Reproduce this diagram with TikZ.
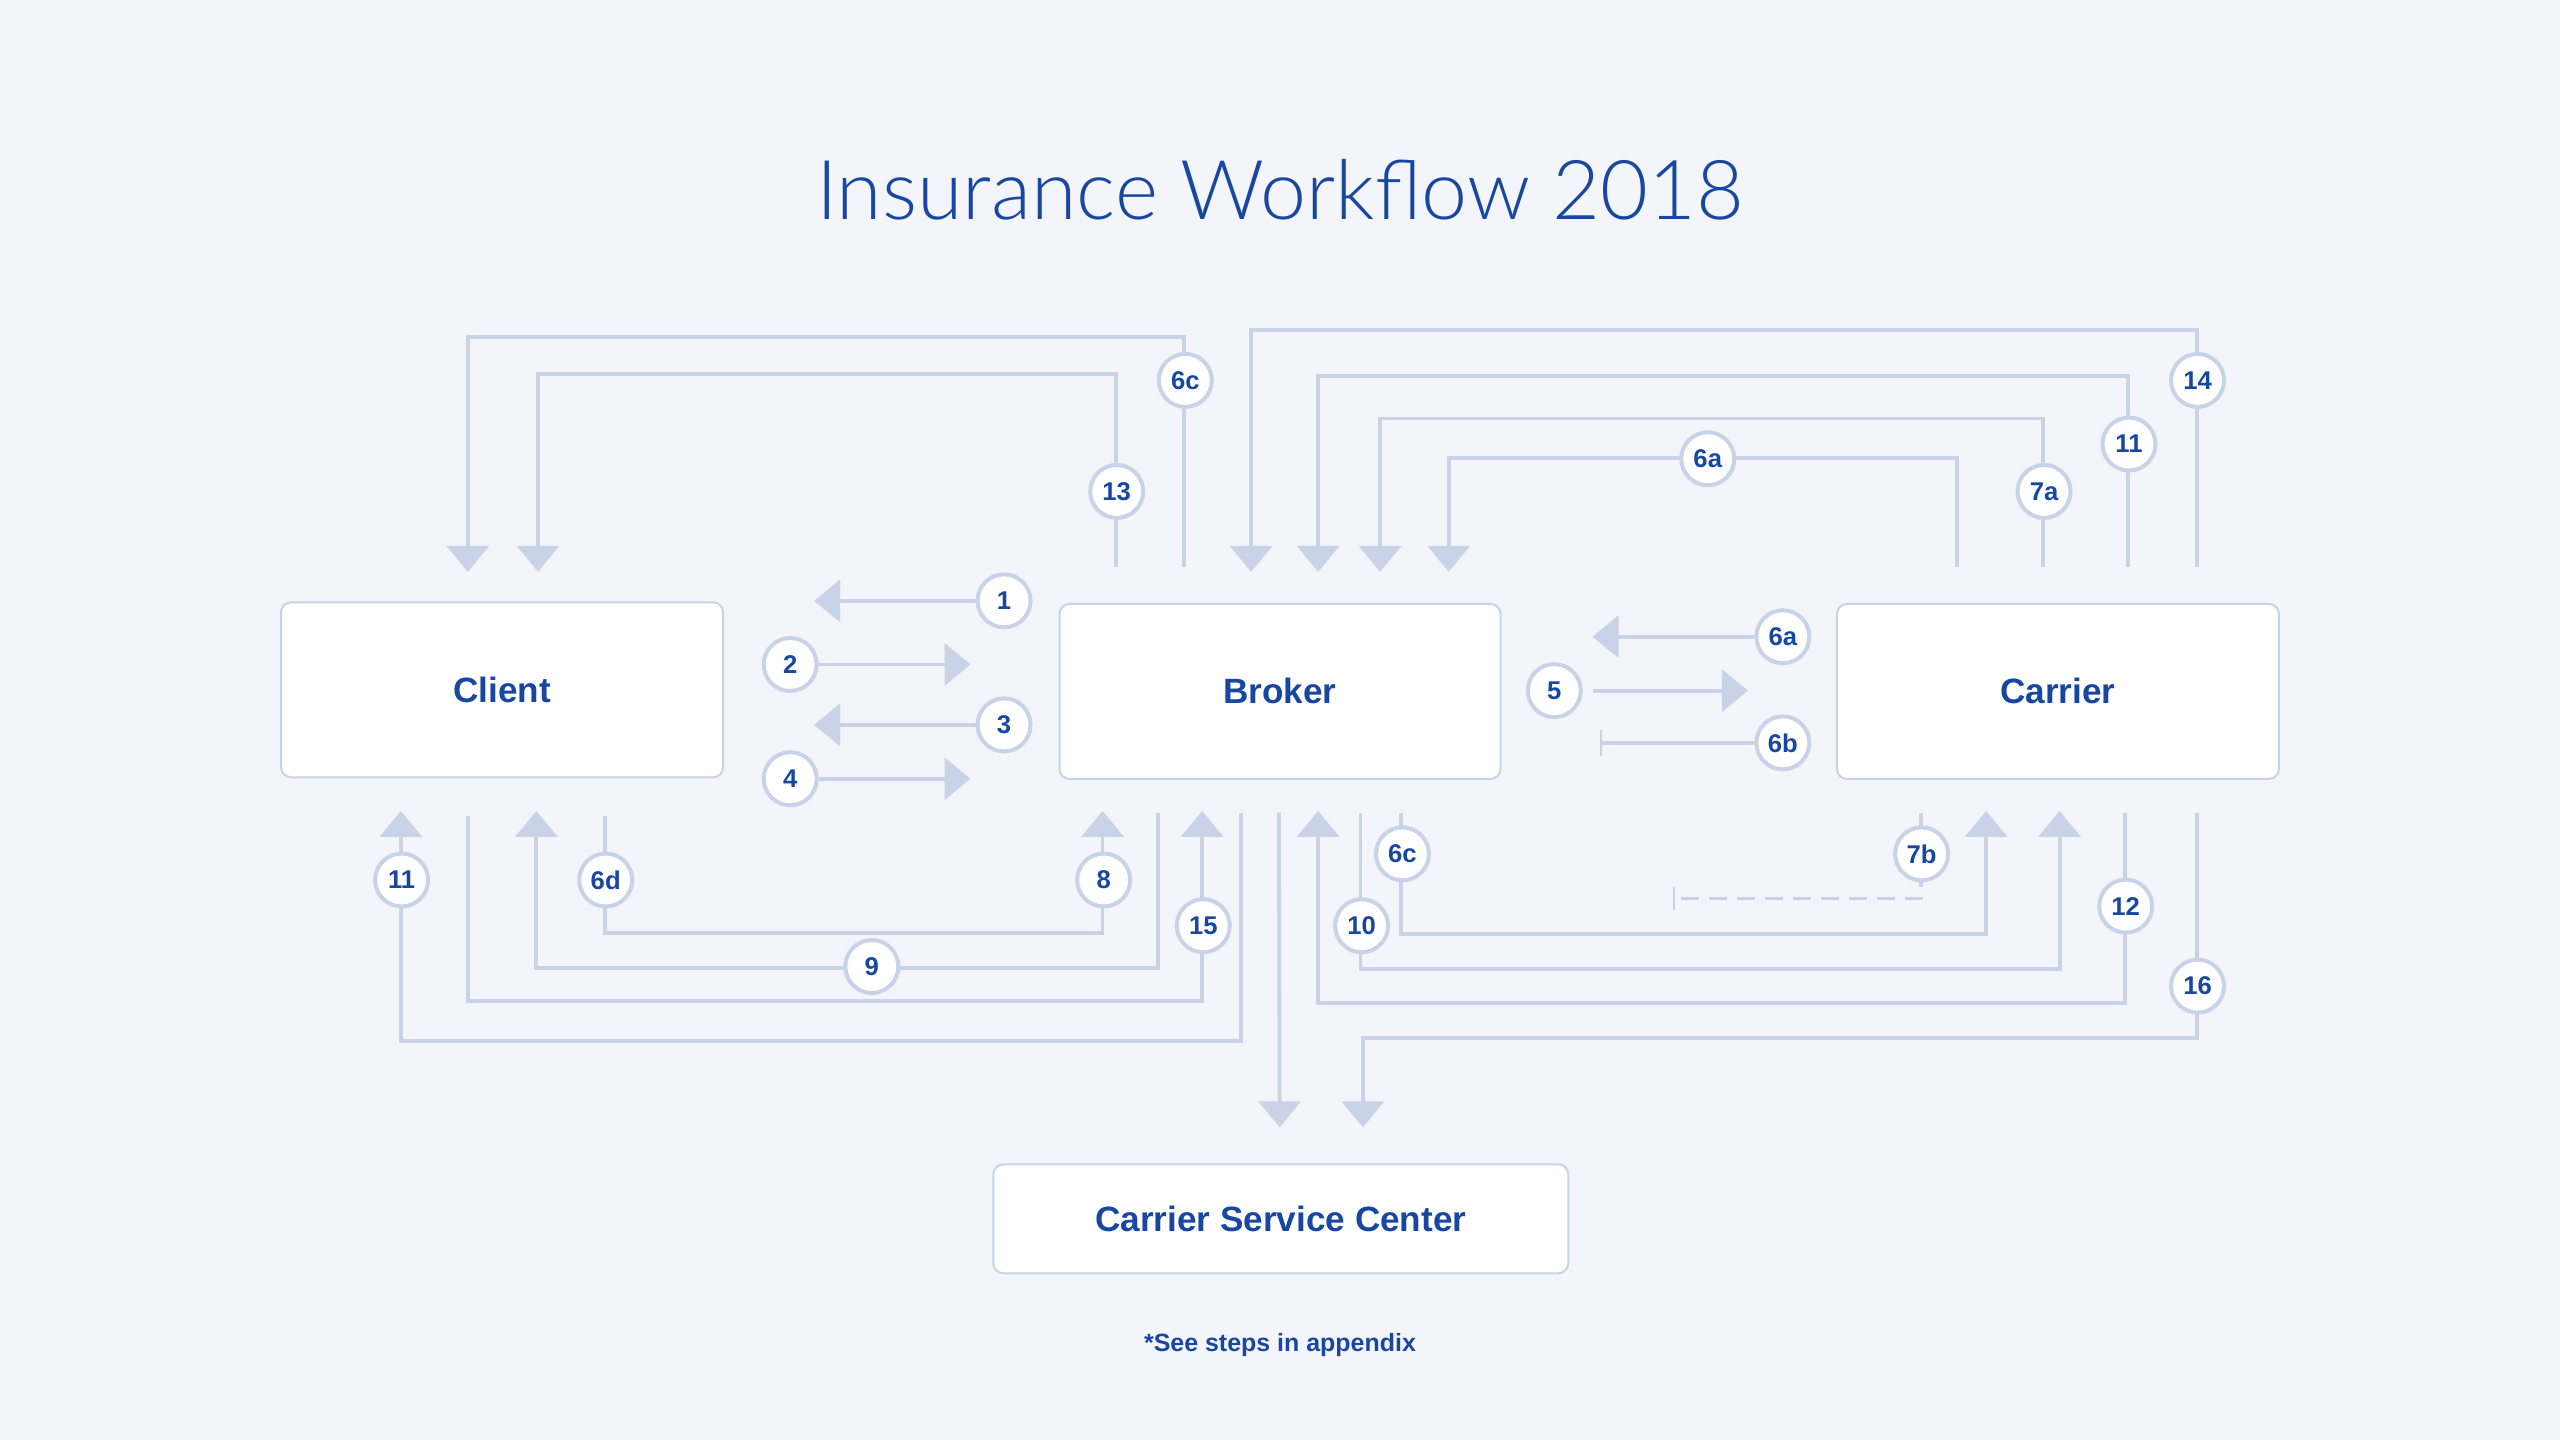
\documentclass[tikz,border=0pt]{standalone}
\usepackage{fontspec}
\setmainfont{Liberation Sans}
\newfontfamily\titlefont{Lato Light}
\usetikzlibrary{arrows.meta,backgrounds,calc}
\definecolor{ink}{RGB}{23,71,160}
\definecolor{wire}{RGB}{200,211,231}
\definecolor{paper}{RGB}{243,245,250}
\tikzset{
  box/.style={draw=wire, line width=0.2mm, rounded corners=1mm, fill=white, text=ink,
    font=\bfseries\fontsize{10}{12}\selectfont},
  num/.style={circle, draw=wire, line width=0.4mm, fill=white, minimum size=5.3mm, inner sep=0pt,
    text=ink, font=\bfseries\fontsize{7.3}{8}\selectfont},
  wireline/.style={draw=wire, line width=0.38mm},
  flow/.style={wireline, -{Triangle[length=2.6mm, width=4.2mm]}},
  stopline/.style={wireline, -{Bar[width=2.6mm, line width=0.25mm]}},
  dashline/.style={wireline, line width=0.35mm, dash pattern=on 1.8mm off 1mm}
}
\begin{document}
\begin{tikzpicture}[x=0.16327mm, y=-0.16327mm]
  \useasboundingbox (0,0) rectangle (1568,882);
  \begin{scope}[on background layer]
    \fill[paper] (0,0) rectangle (1568,882);
  \end{scope}
  \node[text=ink, font=\titlefont\fontsize{23.5}{28}\selectfont] (title) at (784,116) {Insurance Workflow 2018};
  % Parteien
  \node[box, minimum width=44.2mm, minimum height=17.5mm] (client) at (307.5,422.5) {Client};
  \node[box, minimum width=44.1mm, minimum height=17.5mm] (broker) at (784,423.5) {Broker};
  \node[box, minimum width=44.2mm, minimum height=17.5mm] (carrier) at (1260.5,423.5) {Carrier};
  \node[box, minimum width=57.5mm, minimum height=10.9mm] (csc) at (784.5,746.5) {Carrier Service Center};
  \node[text=ink, font=\bfseries\fontsize{7.1}{8}\selectfont] (note) at (784,824) {*See steps in appendix};
  % Anschluesse oben
  \coordinate (cT1) at ($(client.north west)+(115,-18)$);
  \coordinate (cT2) at ($(client.north west)+(158,-18)$);
  \coordinate (bT1) at ($(broker.north west)+(77,-22)$);
  \coordinate (bT2) at ($(broker.north west)+(35,-22)$);
  \coordinate (bT3) at ($(broker.north west)+(118,-19)$);
  \coordinate (bT4) at ($(broker.north west)+(159,-19)$);
  \coordinate (bT5) at ($(broker.north west)+(197,-19)$);
  \coordinate (bT6) at ($(broker.north west)+(239,-19)$);
  \coordinate (rT1) at ($(carrier.north west)+(221,-22)$);
  \coordinate (rT2) at ($(carrier.north west)+(179,-22)$);
  \coordinate (rT3) at ($(carrier.north west)+(127,-22)$);
  \coordinate (rT4) at ($(carrier.north west)+(74,-22)$);
  % Anschluesse unten
  \coordinate (cB1) at ($(client.south west)+(74,20)$);
  \coordinate (cB2) at ($(client.south west)+(115,23)$);
  \coordinate (cB3) at ($(client.south west)+(157,20)$);
  \coordinate (cB4) at ($(client.south west)+(199,23)$);
  \coordinate (bB1) at ($(broker.south west)+(112,20)$);
  \coordinate (bB2) at ($(broker.south west)+(88,19)$);
  \coordinate (bB3) at ($(broker.south west)+(61,20)$);
  \coordinate (bB4) at ($(broker.south west)+(27,19)$);
  \coordinate (bB5) at ($(broker.south west)+(135,20)$);
  \coordinate (bB6) at ($(broker.south west)+(159,19)$);
  \coordinate (bB7) at ($(broker.south west)+(185,20)$);
  \coordinate (bB8) at ($(broker.south west)+(210,20)$);
  \coordinate (rB1) at ($(carrier.south west)+(177,20)$);
  \coordinate (rB2) at ($(carrier.south west)+(137,19)$);
  \coordinate (rB3) at ($(carrier.south west)+(92,19)$);
  \coordinate (rB4) at ($(carrier.south west)+(52,20)$);
  \coordinate (rB5) at ($(carrier.south west)+(221,20)$);
  \coordinate (e7b) at ($(rB4)+(-152,52.5)$);
  \coordinate (sT1) at ($(csc.north west)+(176,-22)$);
  \coordinate (sT2) at ($(csc.north west)+(227,-22)$);
  % Schritte
  \node[num] (s6ct) at (726,233) {6c};
  \node[num] (s13) at (684,301) {13};
  \node[num] (s14) at (1346,233) {14};
  \node[num] (s11t) at (1304,272) {11};
  \node[num] (s7a) at (1252,301) {7a};
  \node[num] (s6at) at (1046,281) {6a};
  \node[num] (s1) at (615,368) {1};
  \node[num] (s2) at (484,407) {2};
  \node[num] (s3) at (615,444) {3};
  \node[num] (s4) at (484,477) {4};
  \node[num] (s6a) at (1092,390) {6a};
  \node[num] (s5) at (952,423) {5};
  \node[num] (s6b) at (1092,455) {6b};
  \node[num] (s11b) at (246,539) {11};
  \node[num] (s6d) at (371,539) {6d};
  \node[num] (s8) at (676,539) {8};
  \node[num] (s9) at (534,592) {9};
  \node[num] (s15) at (737,567) {15};
  \node[num] (s6cb) at (859,523) {6c};
  \node[num] (s10) at (834,567) {10};
  \node[num] (s7b) at (1177,523) {7b};
  \node[num] (s12) at (1302,555) {12};
  \node[num] (s16) at (1346,604) {16};
  \begin{scope}[on background layer]
    % oben
    \draw[flow] (bT1) -- ++(0,-141) -| (cT1);
    \draw[flow] (bT2) -- ++(0,-118) -| (cT2);
    \draw[flow] (rT1) -- ++(0,-145) -| (bT3);
    \draw[flow] (rT2) -- ++(0,-117) -| (bT4);
    \draw[flow] (rT3) -- ++(0,-91) -| (bT5);
    \draw[flow] (rT4) -- ++(0,-67) -| (bT6);
    % zwischen den Boxen
    \draw[flow, shorten >=9mm] (s1) -- (s1 -| client.east);
    \draw[flow, shorten >=8.8mm] (s2) -- (s2 -| broker.west);
    \draw[flow, shorten >=9mm] (s3) -- (s3 -| client.east);
    \draw[flow, shorten >=8.8mm] (s4) -- (s4 -| broker.west);
    \draw[flow, shorten >=9.1mm] (s6a) -- (s6a -| broker.east);
    \draw[flow, shorten <=1mm, shorten >=8.8mm] (s5) -- (s5 -| carrier.west);
    \draw[stopline, shorten >=9.8mm] (s6b) -- (s6b -| broker.east);
    % unten
    \draw[flow] (bB1) -- ++(0,140) -| (cB1);
    \draw[flow] (cB2) -- ++(0,113.5) -| (bB2);
    \draw[flow] (bB3) -- ++(0,95) -| (cB3);
    \draw[flow] (cB4) -- ++(0,72) -| (bB4);
    \draw[flow] (bB5) -- (sT1);
    \draw[flow] (rB1) -- ++(0,116.5) -| (bB6);
    \draw[flow] (bB7) -- ++(0,96) -| (rB2);
    \draw[flow] (bB8) -- ++(0,74.5) -| (rB3);
    \draw[dashline, -{Bar[width=2.3mm, line width=0.25mm]}] (rB4) |- (e7b);
    \draw[flow] (rB5) -- ++(0,138) -| (sT2);
  \end{scope}
\end{tikzpicture}
\end{document}
